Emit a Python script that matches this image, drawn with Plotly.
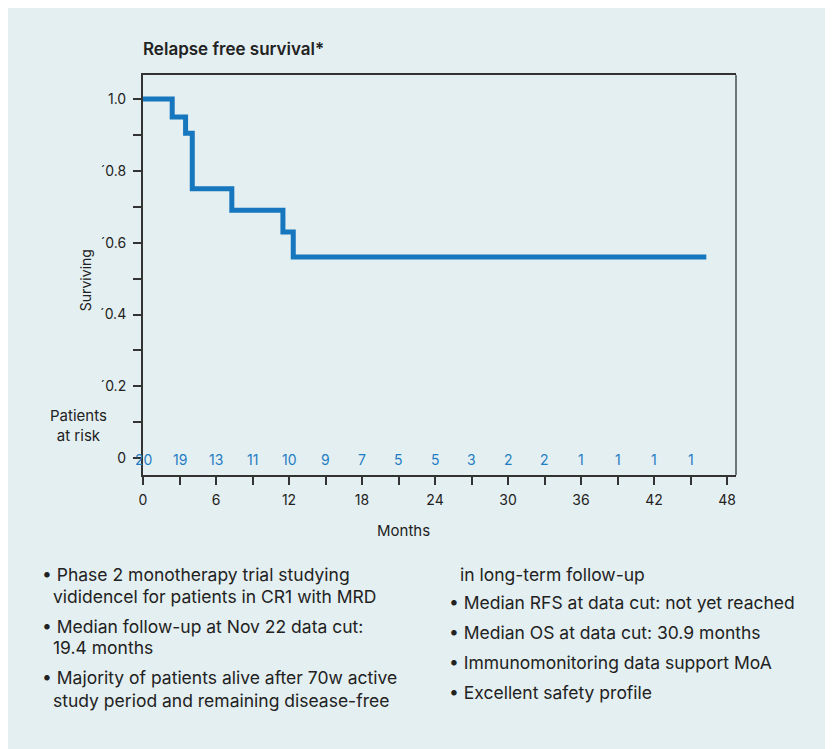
import plotly.graph_objects as go

# ---- data ----
months = [0, 2.4, 3.5, 4.05, 7.3, 11.5, 12.35, 46.3]
surviving = [1.0, 0.95, 0.905, 0.75, 0.69, 0.63, 0.56, 0.56]

risk_months = [0, 3, 6, 9, 12, 15, 18, 21, 24, 27, 30, 33, 36, 39, 42, 45]
risk_counts = [20, 19, 13, 11, 10, 9, 7, 5, 5, 3, 2, 2, 1, 1, 1, 1]

x_tickvals = list(range(0, 49, 3))
x_ticktext = [str(v) if v % 6 == 0 else "" for v in x_tickvals]
y_tickvals = [0, 0.1, 0.2, 0.3, 0.4, 0.5, 0.6, 0.7, 0.8, 0.9, 1.0]
y_ticktext = ["0", "", "´0.2", "", "´0.4", "", "´0.6", "", "´0.8", "", "1.0"]

left_lines = [
    "• Phase 2 monotherapy trial studying",
    "vididencel for patients in CR1 with MRD",
    "• Median follow-up at Nov 22 data cut:",
    "19.4 months",
    "• Majority of patients alive after 70w active",
    "study period and remaining disease-free",
]
right_lines = [
    "in long-term follow-up",
    "• Median RFS at data cut: not yet reached",
    "• Median OS at data cut: 30.9 months",
    "• Immunomonitoring data support MoA",
    "• Excellent safety profile",
]

FONT = "Inter"
TXT = "#222222"
BLUE = "#1676BE"
PANEL = "#E4EFF1"

OFF = 8  # page body margin
W, H = 833 - OFF, 749 - OFF
# plot area in screen pixels
L, R, T, B = 143, 736, 74.5, 475
pw, ph = R - L, B - T


def px(x):
    return (x - L) / pw


def py(y):
    return (B - y) / ph


fig = go.Figure()
fig.add_trace(go.Scatter(
    x=months, y=surviving, mode="lines", line=dict(shape="hv", color=BLUE, width=5),
    hoverinfo="skip", showlegend=False,
))

annotations = []
for m, c in zip(risk_months, risk_counts):
    annotations.append(dict(x=m, y=0, xref="x", yref="y", text=str(c), showarrow=False,
                            font=dict(family=FONT, size=14, color="#1F7DC4"),
                            xanchor="center", yanchor="middle", yshift=-1))

annotations.append(dict(x=px(141), y=py(48), xref="paper", yref="paper",
                        text="Relapse free survival*", showarrow=False,
                        xanchor="left", yanchor="middle",
                        font=dict(family=FONT, size=17, color=TXT, weight=600)))
annotations.append(dict(x=px(85), y=py(280), xref="paper", yref="paper", text="Surviving",
                        textangle=-90, showarrow=False, xanchor="center", yanchor="middle",
                        font=dict(family=FONT, size=14, color=TXT)))
annotations.append(dict(x=px(78), y=py(425), xref="paper", yref="paper",
                        text="Patients<br>at risk", showarrow=False, align="center",
                        xanchor="center", yanchor="middle",
                        font=dict(family=FONT, size=15, color=TXT)))
annotations.append(dict(x=px(403), y=py(531), xref="paper", yref="paper", text="Months",
                        showarrow=False, xanchor="center", yanchor="middle",
                        font=dict(family=FONT, size=15, color=TXT)))

left_y = [575, 597, 627, 648, 678, 701]
left_x = [40, 51, 40, 51, 40, 51]
for t, xx, yy in zip(left_lines, left_x, left_y):
    annotations.append(dict(x=px(xx), y=py(yy), xref="paper", yref="paper", text=t,
                            showarrow=False, xanchor="left", yanchor="middle",
                            font=dict(family=FONT, size=17.5, color=TXT)))
right_y = [575, 603, 633, 663, 693]
right_x = [458, 447, 447, 447, 447]
for t, xx, yy in zip(right_lines, right_x, right_y):
    annotations.append(dict(x=px(xx), y=py(yy), xref="paper", yref="paper", text=t,
                            showarrow=False, xanchor="left", yanchor="middle",
                            font=dict(family=FONT, size=17.5, color=TXT)))

shapes = [
    dict(type="line", xref="paper", yref="paper", x0=1, x1=1, y0=0, y1=1,
         line=dict(color="#6E7778", width=2)),
]

fig.update_layout(
    width=W, height=H,
    margin=dict(l=L - OFF, r=W - (R - OFF), t=T - OFF, b=H - (B - OFF), pad=0),
    paper_bgcolor=PANEL, plot_bgcolor=PANEL,
    showlegend=False,
    annotations=annotations, shapes=shapes,
    font=dict(family=FONT, color=TXT),
)
fig.update_xaxes(
    range=[0, 48.74], tickvals=x_tickvals, ticktext=x_ticktext,
    showgrid=False, zeroline=False, showline=True, linecolor="#333333", linewidth=2,
    mirror=True, ticks="outside", ticklen=8, tickwidth=1.5, tickcolor="#333333",
    ticklabelstandoff=3,
    tickfont=dict(family=FONT, size=14, color=TXT), fixedrange=True,
)
fig.update_yaxes(
    range=[-0.047, 1.067], tickvals=y_tickvals, ticktext=y_ticktext,
    showgrid=False, zeroline=False, showline=True, linecolor="#333333", linewidth=2,
    ticks="outside", ticklen=8, tickwidth=1.5, tickcolor="#333333",
    ticklabelstandoff=4,
    tickfont=dict(family=FONT, size=14, color=TXT), fixedrange=True,
)

fig.write_html("out.html")
